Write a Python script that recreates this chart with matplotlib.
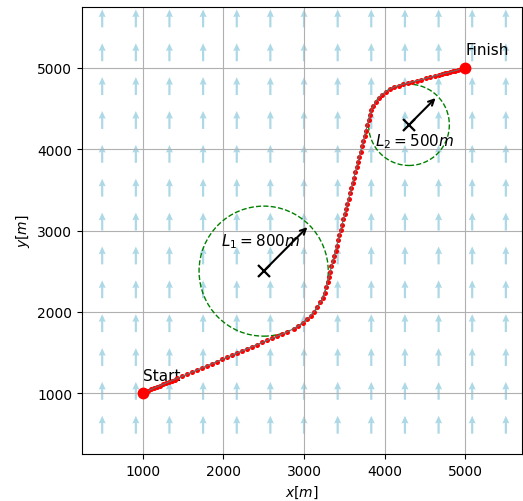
import numpy as np
import matplotlib
matplotlib.use("Agg")
import matplotlib.pyplot as plt

# wind field grid (arrows all pointing north)
wind_x = [500, 917, 1333, 1750, 2167, 2583, 3000, 3417, 3833, 4250, 4667, 5083, 5500]
wind_y = [500, 917, 1333, 1750, 2167, 2583, 3000, 3417, 3833, 4250, 4667, 5083, 5500]
wind_u = 0.0
wind_v = 220.0

# start / finish
start = (1000, 1000)
finish = (5000, 5000)

# turning circles: centre x, centre y, radius
circle1 = (2500, 2500, 800)
circle2 = (4300, 4300, 500)

# path points
path_x = [1000, 1036, 1072, 1108, 1144, 1180, 1216, 1252, 1288, 1324, 1360, 1396, 1432,
          1490, 1552, 1614, 1676, 1738, 1800, 1862, 1924, 1986, 2048, 2110, 2172, 2234,
          2296, 2358, 2420, 2482, 2544, 2606, 2668, 2730, 2792,
          2871, 2929, 2984, 3035, 3083, 3127, 3166, 3201, 3231, 3256, 3275,
          3291, 3308, 3324, 3340, 3357, 3373, 3390, 3406, 3422, 3439, 3455, 3471, 3488,
          3504, 3520, 3537, 3553, 3570, 3586, 3602, 3619, 3635, 3651, 3668, 3684, 3700,
          3717, 3733, 3750, 3766, 3782, 3799, 3815,
          3834, 3858, 3889, 3925, 3967, 4013, 4064, 4117, 4173,
          4229, 4285, 4341, 4397, 4453, 4509, 4565, 4621, 4677,
          4710, 4743, 4776, 4809, 4842, 4875, 4908, 4941, 4974, 5000]
path_y = [1000, 1015, 1030, 1045, 1061, 1076, 1091, 1106, 1121, 1136, 1151, 1166, 1182,
          1206, 1232, 1258, 1284, 1310, 1336, 1362, 1388, 1415, 1441, 1467, 1493, 1519,
          1545, 1571, 1597, 1623, 1649, 1675, 1701, 1727, 1753,
          1791, 1825, 1863, 1906, 1952, 2003, 2057, 2115, 2175, 2237, 2301,
          2365, 2430, 2494, 2558, 2622, 2687, 2751, 2815, 2879, 2944, 3008, 3072, 3136,
          3201, 3265, 3329, 3393, 3458, 3522, 3586, 3650, 3715, 3779, 3843, 3907, 3971,
          4036, 4100, 4164, 4228, 4293, 4357, 4421,
          4480, 4534, 4585, 4631, 4673, 4710, 4741, 4765, 4784,
          4799, 4813, 4828, 4843, 4857, 4872, 4886, 4901, 4916,
          4924, 4933, 4942, 4950, 4959, 4967, 4976, 4985, 4993, 5000]

fig = plt.figure(figsize=(5.23, 5.02), dpi=100)
ax = fig.add_axes([82/523, 47/502, 440/523, 447/502])

X, Y = np.meshgrid(wind_x, wind_y)
ax.quiver(X, Y, np.full(X.shape, wind_u), np.full(X.shape, wind_v),
          color='lightblue', angles='xy', scale_units='xy', scale=1,
          width=0.005, headwidth=3.2, headlength=3.5, headaxislength=3.2, zorder=1)

for cx, cy, r in (circle1, circle2):
    ax.add_patch(plt.Circle((cx, cy), r, fill=False, color='green', ls='--', lw=1, zorder=3))
    ax.plot(cx, cy, 'kx', ms=8, mew=1.6, zorder=4)
    ax.annotate('', xy=(cx + r*np.cos(np.pi/4), cy + r*np.sin(np.pi/4)), xytext=(cx, cy),
                arrowprops=dict(arrowstyle='->', color='k', lw=1.5), zorder=4)

ax.plot(path_x, path_y, 'o', color='red', ms=3.6, mew=0, zorder=4)
ax.plot(path_x, path_y, color='dimgray', lw=0.8, zorder=5)
ax.plot(*start, 'o', color='red', ms=7.5, zorder=6)
ax.plot(*finish, 'o', color='red', ms=7.5, zorder=6)

ax.text(1000, 1160, 'Start', fontsize=11)
ax.text(5000, 5170, 'Finish', fontsize=11)
ax.text(1975, 2815, '$L_1 = 800m$', fontsize=11)
ax.text(3880, 4050, '$L_2 = 500m$', fontsize=11)

ax.set_xlim(250, 5700)
ax.set_ylim(250, 5750)
ax.set_xticks([1000, 2000, 3000, 4000, 5000])
ax.set_yticks([1000, 2000, 3000, 4000, 5000])
ax.grid(True)
ax.set_xlabel('$x[m]$')
ax.set_ylabel('$y[m]$')

fig.savefig('out.png', dpi=100)
